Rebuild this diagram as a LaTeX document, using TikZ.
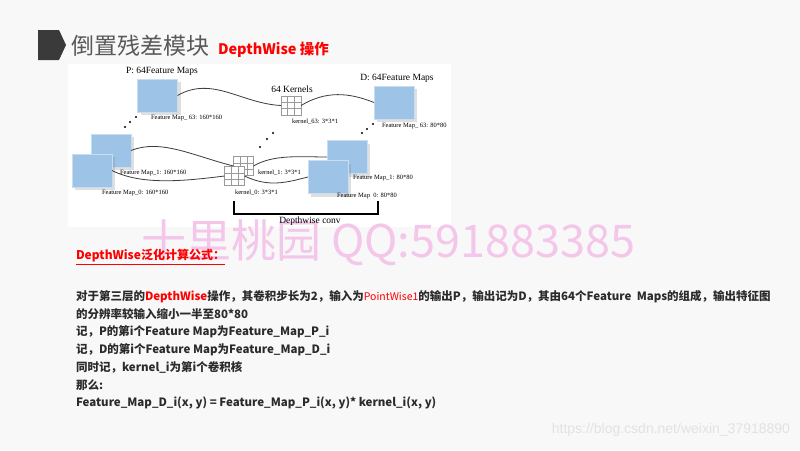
\documentclass[tikz,border=0pt]{standalone}
\usepackage{fontspec}
\setmainfont{Liberation Serif}
\newfontfamily\cjk{Noto Sans CJK SC}
\newfontfamily\urlfont{Liberation Sans}
\usetikzlibrary{calc,shadows}
\definecolor{slidebg}{HTML}{F8F8F8}
\definecolor{slideink}{HTML}{2B2B2B}
\definecolor{slidetitle}{HTML}{595959}
\definecolor{slidered}{HTML}{FF0000}
\definecolor{slidemark}{HTML}{3A3A3A}
\definecolor{markpink}{HTML}{F4C6EA}
\definecolor{markgray}{HTML}{E2E2E2}
\definecolor{mapblue}{HTML}{9DC3E6}
\definecolor{mapedge}{HTML}{C9DDF0}
\definecolor{gridgray}{HTML}{9A9A9A}
\definecolor{wireink}{HTML}{3C3C3C}

\begin{document}
\begin{tikzpicture}[
  x=1pt,
  y=-1pt,
  every node/.style={inner sep=0pt, outer sep=0pt},
  fmap/.style={draw=mapedge, fill=mapblue, line width=0.8pt,
    minimum width=40pt, minimum height=33pt,
    drop shadow={shadow xshift=3pt, shadow yshift=-3pt, opacity=0.25}},
  kernel/.style={draw=gridgray, fill=white, line width=0.5pt,
    minimum width=20pt, minimum height=19pt,
    path picture={
      \foreach \t in {0.333,0.667} {
        \draw[gridgray, line width=0.5pt]
          ($(path picture bounding box.north west)!\t!(path picture bounding box.north east)$) --
          ($(path picture bounding box.south west)!\t!(path picture bounding box.south east)$);
        \draw[gridgray, line width=0.5pt]
          ($(path picture bounding box.north west)!\t!(path picture bounding box.south west)$) --
          ($(path picture bounding box.north east)!\t!(path picture bounding box.south east)$);
      }
    }},
  tiny/.style={anchor=west, font=\fontsize{6.5}{7}\selectfont},
  caption/.style={font=\fontsize{9.5}{11}\selectfont},
  wire/.style={wireink, line width=0.8pt},
  bodyline/.style={anchor=west, text=slideink, font=\cjk\bfseries\fontsize{11.5}{14}\selectfont}
]
  \fill[slidebg] (0,0) rectangle (800,450);
  \useasboundingbox (0,0) rectangle (800,450);
  \fill[white] (68,64) rectangle (451,227);

  % title
  \fill[slidemark] (38,30) -- (59,30) -- (66,45) -- (59,60) -- (38,60) -- cycle;
  \node[anchor=west, text=slidetitle, font=\cjk\fontsize{23}{25}\selectfont] (title) at (71,46) {倒置残差模块};
  \node[anchor=base west, text=slidered, font=\cjk\bfseries\fontsize{14.5}{16}\selectfont] (subtitle)
    at ([xshift=9pt]title.base east) {DepthWise 操作};

  % watermarks
  \node[anchor=west, text=markpink, font=\cjk\fontsize{45}{47}\selectfont] (mark) at (141,243) {十里桃园 QQ:591883385};
  \node[anchor=east, text=markgray, font=\urlfont\fontsize{14}{16}\selectfont] (url) at (790,430) {https://blog.csdn.net/weixin\_37918890};

  % input maps P
  \node[caption] (ptitle) at (162,71) {P: 64Feature Maps};
  \node[fmap] (p63) at (157.5,95.5) {};
  \node[fmap] (p1) at (111,150.5) {};
  \node[fmap] (p0) at (92,170.5) {};
  \node[tiny] (lp63) at (151,118) {Feature Map\_ 63: 160*160};
  \node[tiny] (lp1) at (120,173) {Feature Map\_1: 160*160};
  \node[tiny] (lp0) at (102,193) {Feature Map\_0: 160*160};

  % kernels
  \node[caption] (ktitle) at (292,89) {64 Kernels};
  \node[kernel] (k63) at (291,105.5) {};
  \node[kernel] (k1) at (243.5,166) {};
  \node[kernel] (k0) at (234.5,176) {};
  \node[tiny] (lk63) at (292,122) {kernel\_63: 3*3*1};
  \node[tiny] (lk1) at (258,173) {kernel\_1: 3*3*1};
  \node[tiny] (lk0) at (235,193) {kernel\_0: 3*3*1};

  % output maps D
  \node[caption] (dtitle) at (397,78) {D: 64Feature Maps};
  \node[fmap] (d63) at (394,102.5) {};
  \node[fmap] (d1) at (347,157) {};
  \node[fmap] (d0) at (328,177) {};
  \node[tiny] (ld63) at (382,126) {Feature Map\_ 63: 80*80};
  \node[tiny] (ld1) at (353,178) {Feature Map\_1: 80*80};
  \node[tiny] (ld0) at (337,196) {Feature Map\ \ 0: 80*80};

  \draw[wire] (p63.east) .. controls +(35,-20) and +(-40,-2) .. (k63.west);
  \draw[wire] (k63.east) .. controls +(25,-15) and +(-25,-10) .. (d63.west);
  \draw[wire] (p1.east) .. controls +(30,-12) and +(-40,-10) .. (k1.west);
  \draw[wire] (p0.east) .. controls +(30,15) and +(-40,5) .. (k0.west);
  \draw[wire] (k1.east) .. controls +(20,-12) and +(-25,0) .. (d1.west);
  \draw[wire] (k0.east) .. controls +(25,12) and +(-20,5) .. (d0.west);

  \foreach \px/\py in {125/127,130/122,136/117,260/147,267/139,273/133,362/133,367/129,373/124}
    \fill (\px,\py) circle (1.1);

  \draw[line width=1.3pt] (234,201) -- (234,214) -- (378,214) -- (378,201);
  \node[caption] (conv) at (310,221) {Depthwise conv};

  % formula text
  \node[anchor=west, text=slidered, font=\cjk\bfseries\fontsize{12}{14}\selectfont] (formula) at (76,256) {DepthWise泛化计算公式：};
  \draw[slidered, line width=1pt] ([yshift=-2pt]formula.south west) -- ([yshift=-2pt]formula.south east);

  \node[bodyline] (line1) at (76,297) {对于第三层的\textcolor{slidered}{DepthWise}操作，其卷积步长为2，输入为\textcolor{slidered}{\mdseries\fontsize{10.5}{12}\selectfont PointWise1}的输出P，输出记为D，其由64个Feature\ \ Maps的组成，输出特征图};
  \node[bodyline] (line2) at (76,314.5) {的分辨率较输入缩小一半至80*80};
  \node[bodyline] (line3) at (76,332) {记，P的第i个Feature Map为Feature\_Map\_P\_i};
  \node[bodyline] (line4) at (76,350) {记，D的第i个Feature Map为Feature\_Map\_D\_i};
  \node[bodyline] (line5) at (76,367) {同时记，kernel\_i为第i个卷积核};
  \node[bodyline] (line6) at (76,385) {那么:};
  \node[bodyline] (line7) at (76,403) {Feature\_Map\_D\_i(x, y) = Feature\_Map\_P\_i(x, y)* kernel\_i(x, y)};
\end{tikzpicture}
\end{document}
